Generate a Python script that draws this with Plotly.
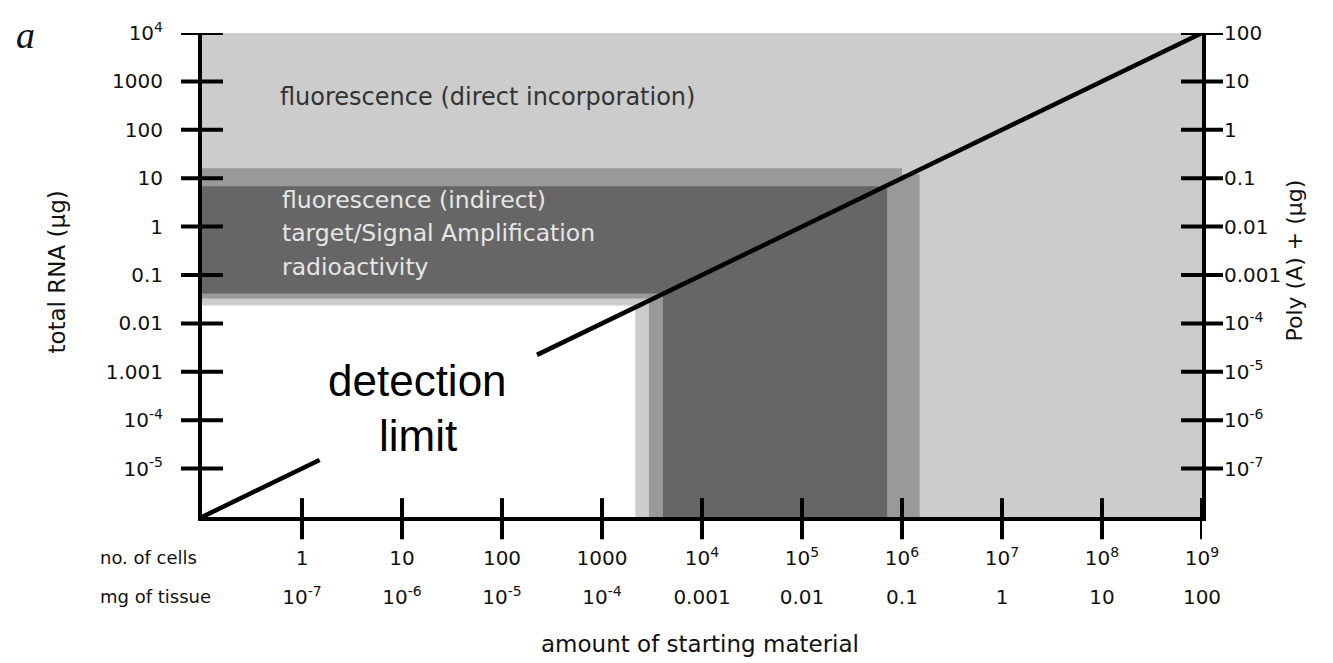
import math
import plotly.graph_objects as go

# ---------------- data ----------------
x_ticks = [1, 10, 100, 1000, 1e4, 1e5, 1e6, 1e7, 1e8, 1e9]
cells_labels = ["1", "10", "100", "1000", "10<sup>4</sup>", "10<sup>5</sup>", "10<sup>6</sup>",
                "10<sup>7</sup>", "10<sup>8</sup>", "10<sup>9</sup>"]
tissue_labels = ["10<sup>-7</sup>", "10<sup>-6</sup>", "10<sup>-5</sup>", "10<sup>-4</sup>", "0.001",
                 "0.01", "0.1", "1", "10", "100"]

y_ticks = [1e4, 1e3, 100, 10, 1, 0.1, 0.01, 1e-3, 1e-4, 1e-5]
rna_labels = ["10<sup>4</sup>", "1000", "100", "10", "1", "0.1", "0.01", "1.001",
              "10<sup>-4</sup>", "10<sup>-5</sup>"]
polya_ticks = [100, 10, 1, 0.1, 0.01, 1e-3, 1e-4, 1e-5, 1e-6, 1e-7]
polya_labels = ["100", "10", "1", "0.1", "0.01", "0.001", "10<sup>-4</sup>", "10<sup>-5</sup>",
                "10<sup>-6</sup>", "10<sup>-7</sup>"]

x_range = [0.1, 1e9]          # cells
y_range = [1e-6, 1e4]         # total RNA (ug)
polya_range = [1e-8, 1e2]     # poly(A)+ RNA (ug)

# method regions (L-shaped areas), in cells / ug
direct_x = [0.1, 1e9, 1e9, 2150, 2150, 0.1]
direct_y = [1e4, 1e4, 1e-6, 1e-6, 0.0234, 0.0234]
amp_x = [0.1, 1e6, 1e6, 1.5e6, 1.5e6, 2950, 2950, 0.1]
amp_y = [16, 16, 12, 12, 1e-6, 1e-6, 0.0326, 0.0326]
indirect_x = [0.1, 7.1e5, 7.1e5, 4070, 4070, 0.1]
indirect_y = [6.8, 6.8, 1e-6, 1e-6, 0.0414, 0.0414]

# detection limit line (broken around the label)
limit_x = [0.1, 1.5, None, 224, 1e9]
limit_y = [1e-6, 1.5e-5, None, 2.24e-3, 1e4]

# ---------------- figure ----------------
SANS = "DejaVu Sans"
fig = go.Figure()

fig.add_trace(go.Scatter(x=direct_x, y=direct_y, fill="toself", fillcolor="#cccccc",
                         line=dict(width=0), mode="lines", hoverinfo="skip", showlegend=False))
fig.add_trace(go.Scatter(x=amp_x, y=amp_y, fill="toself", fillcolor="#999999",
                         line=dict(width=0), mode="lines", hoverinfo="skip", showlegend=False))
fig.add_trace(go.Scatter(x=indirect_x, y=indirect_y, fill="toself", fillcolor="#666666",
                         line=dict(width=0), mode="lines", hoverinfo="skip", showlegend=False))
fig.add_trace(go.Scatter(x=limit_x, y=limit_y, mode="lines", line=dict(color="black", width=4.5),
                         connectgaps=False, hoverinfo="skip", showlegend=False))
# helpers so the secondary axes render
fig.add_trace(go.Scatter(x=[1], y=[1], xaxis="x2", yaxis="y", mode="markers",
                         marker=dict(opacity=0), hoverinfo="skip", showlegend=False))
fig.add_trace(go.Scatter(x=[1], y=[1], xaxis="x", yaxis="y2", mode="markers",
                         marker=dict(opacity=0), hoverinfo="skip", showlegend=False))

lx = [math.log10(v) for v in x_range]
ly = [math.log10(v) for v in y_range]
lp = [math.log10(v) for v in polya_range]

tickfont = dict(family=SANS, size=20, color="#111111")
fig.update_layout(
    width=1325, height=655,
    margin=dict(l=194, r=131, t=25, b=146),
    paper_bgcolor="white", plot_bgcolor="white",
    xaxis=dict(type="log", range=lx, showgrid=False, zeroline=False,
               showline=True, linecolor="black", linewidth=4,
               tickvals=x_ticks, ticktext=cells_labels, ticks="",
               ticklabelstandoff=20, tickfont=tickfont, fixedrange=True),
    xaxis2=dict(type="log", range=lx, overlaying="x", side="bottom", anchor="y",
                showgrid=False, zeroline=False, showline=False,
                tickvals=x_ticks, ticktext=tissue_labels, ticks="",
                ticklabelstandoff=66, tickfont=tickfont, fixedrange=True),
    yaxis=dict(type="log", range=ly, showgrid=False, zeroline=False,
               showline=True, linecolor="black", linewidth=4,
               tickvals=y_ticks, ticktext=rna_labels, ticks="",
               ticklabelstandoff=31, tickfont=tickfont, fixedrange=True),
    yaxis2=dict(type="log", range=lp, overlaying="y", side="right", anchor="x",
                showgrid=False, zeroline=False, showline=True, linecolor="black", linewidth=4,
                tickvals=polya_ticks, ticktext=polya_labels, ticks="",
                ticklabelstandoff=14, tickfont=tickfont, fixedrange=True),
)

shapes = []
for v in y_ticks:
    shapes.append(dict(type="line", xref="x domain", yref="y", x0=-0.021, x1=0.021, y0=v, y1=v,
                       line=dict(color="black", width=4)))
for v in polya_ticks:
    shapes.append(dict(type="line", xref="x domain", yref="y2", x0=0.979, x1=1.021, y0=v, y1=v,
                       line=dict(color="black", width=4)))
for v in x_ticks:
    shapes.append(dict(type="line", xref="x", yref="y domain", x0=v, x1=v, y0=-0.046, y1=0.039,
                       line=dict(color="black", width=4)))
fig.update_layout(shapes=shapes)

ann = []
def A(text, x, y, size, color="black", family=SANS, xanchor="center", yanchor="middle",
      xref="paper", yref="paper", angle=0):
    ann.append(dict(text=text, x=x, y=y, xref=xref, yref=yref, showarrow=False,
                    xanchor=xanchor, yanchor=yanchor, textangle=angle,
                    font=dict(family=family, size=size, color=color)))

A("fluorescence (direct incorporation)", 0.076, 0.868, 24, "#333333", xanchor="left",
  xref="x domain", yref="y domain")
A("fluorescence (indirect)", 0.078, 0.655, 23.5, "#e6e6e6", xanchor="left", xref="x domain", yref="y domain")
A("target/Signal Amplification", 0.078, 0.587, 23.5, "#e6e6e6", xanchor="left", xref="x domain", yref="y domain")
A("radioactivity", 0.078, 0.517, 23.5, "#e6e6e6", xanchor="left", xref="x domain", yref="y domain")
A("detection", 0.215, 0.282, 44, "black", family="Liberation Sans", xref="x domain", yref="y domain")
A("limit", 0.216, 0.168, 44, "black", family="Liberation Sans", xref="x domain", yref="y domain")

A("no. of cells", -0.104, -0.0847, 18, "#111111", xanchor="left")
A("mg of tissue", -0.104, -0.165, 18, "#111111", xanchor="left")
A("amount of starting material", 0.498, -0.262, 23, "#111111")
A("total RNA (µg)", -0.145, 0.505, 23, "#111111", angle=-90)
A("Poly (A) + (µg)", 1.092, 0.53, 22, "#111111", angle=-90)
A("<i>a</i>", -0.177, 0.995, 38, "#111111", family="Liberation Serif")
fig.update_layout(annotations=ann)

fig.write_html("out.html")
